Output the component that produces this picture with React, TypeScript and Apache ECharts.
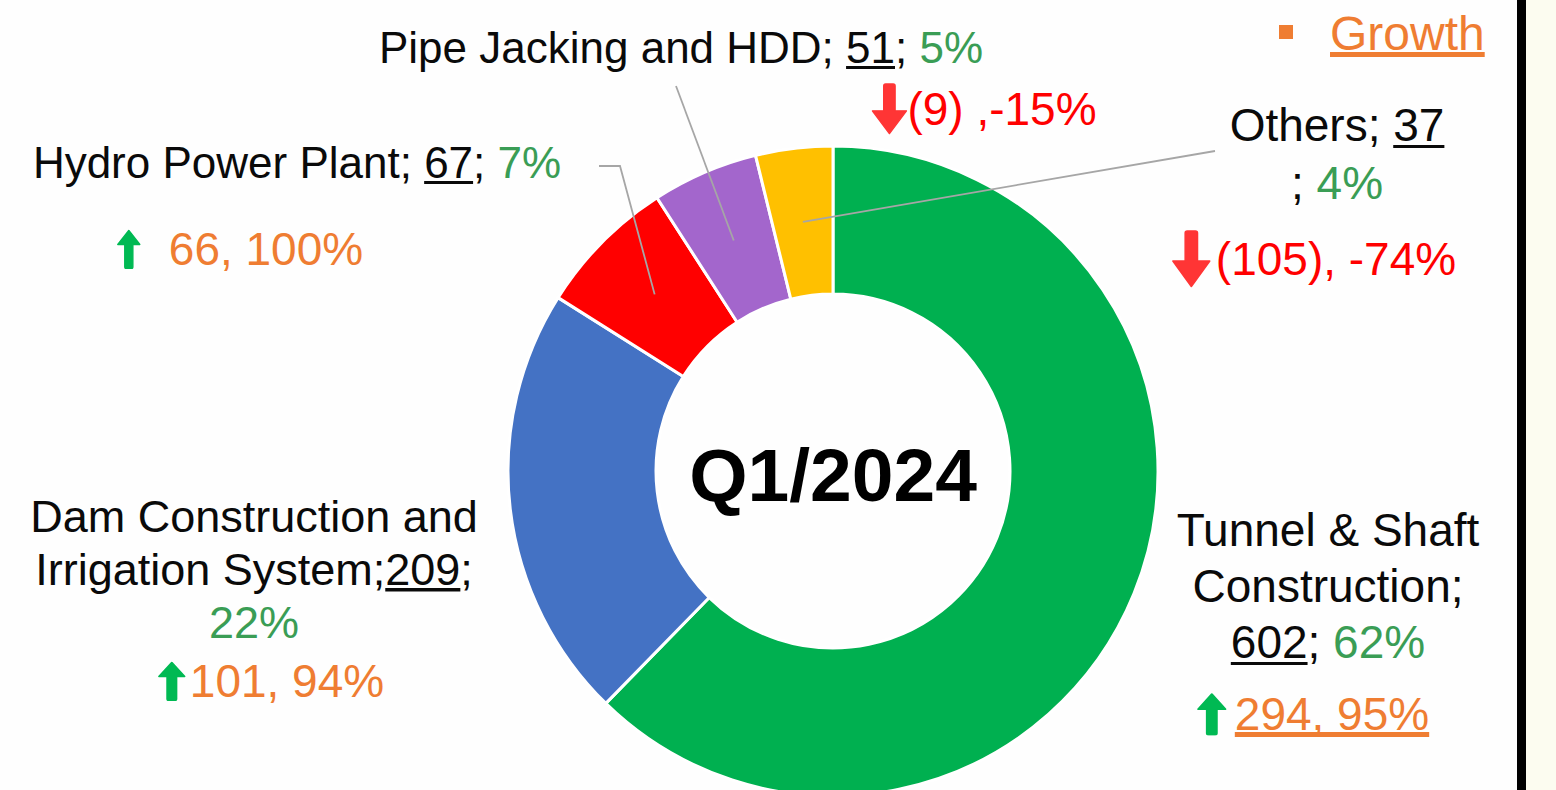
import React, { useEffect, useRef } from 'react';
import * as echarts from 'echarts';

// ---------------- data ----------------
const categories = [
  'Tunnel & Shaft Construction',
  'Dam Construction and Irrigation System',
  'Hydro Power Plant',
  'Pipe Jacking and HDD',
  'Others',
];
const values = [602, 209, 67, 51, 37];
const growthValues = [294, 101, 66, -9, -105];
const growthPercents = [95, 94, 100, -15, -74];
const periodLabel = 'Q1/2024';
const legendLabel = 'Growth';

// ---------------- styles / layout ----------------
const sliceColors = ['#00b050', '#4472c4', '#ff0000', '#a366cc', '#ffc000'];
const FONT = '"Liberation Sans", Arial, sans-serif';
const BLACK = '#0a0a0a';
const GREEN_TEXT = '#3a9d55';
const ORANGE = '#ef7d32';
const RED_TEXT = '#ff0000';
const UP_COLOR = '#00b953';
const DOWN_COLOR = '#ff3535';
const LEADER_COLOR = '#a6a6a6';

const CENTER: [number, number] = [833, 471];
const RADIUS: [number, number] = [177, 325];

const NAME_BREAK_AFTER_WORD = [3, 3, 0, 0, 0];
const SEP_AFTER_NAME = [';\n', ';', '; ', '; ', '; '];
const SEP_AFTER_VALUE = ['; ', ';\n', '; ', '; ', '\n; '];
const GROWTH_SEP = [', ', ', ', ', ', ' ,', ', '];

const MAIN_POS = [[1328, 586], [254, 569], [297, 162], [681, 47], [1337, 154]];
const MAIN_FONT = [46, 45, 44, 44, 46];
const MAIN_LINE_H = [56, 53, 50, 50, 58];
const GROWTH_POS = [[1313, 714], [271, 681], [240, 249], [984, 109], [1314, 259]];
const GROWTH_FONT = 46;
const ARROW_SIZE = [[30, 43], [28, 40], [24, 40], [36, 52], [39, 58]];
const ARROW_GAP = [8, 4, 28, 0, 5];
const GROWTH_UNDERLINE = [true, false, false, false, false];
const LEADERS = [
  { index: 2, points: [[620, 166], [599, 166]] },
  { index: 3, points: [[676, 86]] },
  { index: 4, points: [[1215, 151]] },
];

const svgUrl = (s: string) => 'data:image/svg+xml;charset=utf-8,' + encodeURIComponent(s);
const UP_ARROW = svgUrl(
  `<svg xmlns="http://www.w3.org/2000/svg" width="24" height="40" viewBox="0 0 24 40" preserveAspectRatio="none"><path d="M12 1.5 L23 15.5 L16 15.5 L16 38 Q16 39.5 14.5 39.5 L9.5 39.5 Q8 39.5 8 38 L8 15.5 L1 15.5 Z" fill="${UP_COLOR}" stroke="${UP_COLOR}" stroke-width="1.5" stroke-linejoin="round"/></svg>`
);
const DOWN_ARROW = svgUrl(
  `<svg xmlns="http://www.w3.org/2000/svg" width="38" height="56" viewBox="0 0 38 56" preserveAspectRatio="none"><path d="M19 54.5 L37 30 L25 30 L25 3 Q25 1 23 1 L15 1 Q13 1 13 3 L13 30 L1 30 Z" fill="${DOWN_COLOR}" stroke="${DOWN_COLOR}" stroke-width="1.5" stroke-linejoin="round"/></svg>`
);

const underline = (color: string, from: number) =>
  new echarts.graphic.LinearGradient(0, 0, 0, 1, [
    { offset: 0, color: 'rgba(0,0,0,0)' },
    { offset: from, color: 'rgba(0,0,0,0)' },
    { offset: from, color },
    { offset: 1, color },
  ]);

const total = values.reduce((a, b) => a + b, 0);

function buildRich() {
  const rich: Record<string, any> = {};
  for (let i = 0; i < values.length; i++) {
    const fs = MAIN_FONT[i];
    const lh = MAIN_LINE_H[i];
    rich['n' + i] = { fontFamily: FONT, fontSize: fs, color: BLACK, lineHeight: lh };
    rich['v' + i] = {
      fontFamily: FONT, fontSize: fs, color: BLACK, lineHeight: fs + 2,
      backgroundColor: underline(BLACK, 0.93),
    };
    rich['p' + i] = { fontFamily: FONT, fontSize: fs, color: GREEN_TEXT, lineHeight: lh };
    const [aw, ah] = ARROW_SIZE[i];
    rich['a' + i] = {
      width: aw, height: ah,
      backgroundColor: { image: growthValues[i] >= 0 ? UP_ARROW : DOWN_ARROW },
    };
    rich['s' + i] = { width: ARROW_GAP[i], height: 10 };
    rich['go' + i] = { fontFamily: FONT, fontSize: GROWTH_FONT, color: ORANGE, lineHeight: GROWTH_FONT + 4 };
    rich['gu' + i] = {
      fontFamily: FONT, fontSize: GROWTH_FONT, color: ORANGE, lineHeight: GROWTH_FONT + 4,
      backgroundColor: underline(ORANGE, 0.9),
    };
    rich['gr' + i] = { fontFamily: FONT, fontSize: GROWTH_FONT, color: RED_TEXT, lineHeight: GROWTH_FONT + 4 };
  }
  return rich;
}

function mainLabel(p: any) {
  const i = p.dataIndex;
  const words = categories[i].split(' ');
  const b = NAME_BREAK_AFTER_WORD[i];
  const name = b ? words.slice(0, b).join(' ') + '\n' + words.slice(b).join(' ') : categories[i];
  const pct = Math.round((values[i] / total) * 100);
  return `{n${i}|${name}}{n${i}|${SEP_AFTER_NAME[i]}}{v${i}|${values[i]}}{n${i}|${SEP_AFTER_VALUE[i]}}{p${i}|${pct}%}`;
}

function growthLabel(p: any) {
  const i = p.dataIndex;
  const g = growthValues[i];
  const up = g >= 0;
  const txt = up
    ? `${g}${GROWTH_SEP[i]}${growthPercents[i]}%`
    : `(${-g})${GROWTH_SEP[i]}${growthPercents[i]}%`;
  const st = up ? (GROWTH_UNDERLINE[i] ? 'gu' : 'go') + i : 'gr' + i;
  return `{a${i}|}{s${i}|}{${st}|${txt}}`;
}

export default function App() {
  const ref = useRef<HTMLDivElement>(null);

  useEffect(() => {
    if (!ref.current) return;
    const chart = echarts.init(ref.current, null, { renderer: 'svg' });
    const rich = buildRich();
    const pieData = categories.map((name, i) => ({
      name,
      value: values[i],
      itemStyle: { color: sliceColors[i] },
    }));

    const staticGraphic: any[] = [
      { type: 'rect', id: 'beige', z: 1, shape: { x: 1526, y: 0, width: 30, height: 790 }, style: { fill: '#fcfcf0' } },
      { type: 'rect', id: 'bar', z: 2, shape: { x: 1517, y: 0, width: 9, height: 790 }, style: { fill: '#000000' } },
      {
        type: 'text', id: 'center', z: 50, x: CENTER[0], y: CENTER[1] + 4,
        style: {
          text: periodLabel, fill: '#000000', fontFamily: FONT, fontSize: 75, fontWeight: 'bold',
          align: 'center', verticalAlign: 'middle',
        },
      },
      { type: 'rect', id: 'legendMark', z: 50, shape: { x: 1279, y: 25, width: 14, height: 14 }, style: { fill: ORANGE } },
      {
        type: 'text', id: 'legendText', z: 50, x: 1330, y: 33,
        style: {
          text: `{u|${legendLabel}}`, align: 'left', verticalAlign: 'middle',
          rich: {
            u: {
              fontFamily: FONT, fontSize: 48, fill: ORANGE, color: ORANGE, lineHeight: 50,
              backgroundColor: underline(ORANGE, 0.9),
            },
          },
        },
      },
    ];

    chart.setOption({
      animation: false,
      backgroundColor: '#fefefe',
      tooltip: { show: false },
      series: [
        {
          type: 'pie',
          name: 'share',
          center: CENTER,
          radius: RADIUS,
          startAngle: 90,
          clockwise: true,
          avoidLabelOverlap: false,
          silent: true,
          z: 2,
          itemStyle: { borderColor: '#ffffff', borderWidth: 3 },
          label: {
            show: true, position: 'outside', overflow: 'none', alignTo: 'none',
            formatter: mainLabel, rich, align: 'center',
          },
          labelLine: { show: false },
          labelLayout: (params: any) => {
            const pos = MAIN_POS[params.dataIndex];
            return { x: pos[0], y: pos[1], align: 'center', verticalAlign: 'middle' };
          },
          emphasis: { disabled: true },
          data: pieData,
        },
        {
          type: 'pie',
          name: legendLabel,
          center: CENTER,
          radius: RADIUS,
          startAngle: 90,
          clockwise: true,
          avoidLabelOverlap: false,
          silent: true,
          z: 3,
          itemStyle: { color: 'rgba(0,0,0,0)', borderWidth: 0 },
          label: {
            show: true, position: 'outside', overflow: 'none', alignTo: 'none',
            formatter: growthLabel, rich, align: 'center',
          },
          labelLine: { show: false },
          labelLayout: (params: any) => {
            const pos = GROWTH_POS[params.dataIndex];
            return { x: pos[0], y: pos[1], align: 'center', verticalAlign: 'middle' };
          },
          emphasis: { disabled: true },
          data: categories.map((name, i) => ({ name, value: values[i] })),
        },
      ],
      graphic: staticGraphic,
    });

    // leader lines start at each slice's centroid (mid angle, mid ring) from the pie layout
    let layouts: any[] | null = null;
    try {
      const data = (chart as any).getModel().getSeriesByIndex(0).getData();
      layouts = values.map((_, i) => data.getItemLayout(i));
    } catch (e) {
      layouts = null;
    }
    if (!layouts || !layouts[0]) {
      let acc = -Math.PI / 2;
      layouts = values.map((v) => {
        const a = (v / total) * Math.PI * 2;
        const l = { cx: CENTER[0], cy: CENTER[1], r: RADIUS[1], r0: RADIUS[0], startAngle: acc, endAngle: acc + a };
        acc += a;
        return l;
      });
    }
    const lines = LEADERS.map((ld) => {
      const l = layouts![ld.index];
      const mid = (l.startAngle + l.endAngle) / 2;
      const rr = (l.r + l.r0) / 2;
      const start = [l.cx + rr * Math.cos(mid), l.cy + rr * Math.sin(mid)];
      return {
        type: 'polyline',
        id: 'leader' + ld.index,
        z: 100,
        silent: true,
        shape: { points: [start, ...ld.points] },
        style: { stroke: LEADER_COLOR, lineWidth: 1.8, fill: null },
      };
    });
    chart.setOption({ graphic: [...staticGraphic, ...lines] });

    return () => chart.dispose();
  }, []);

  return (
    <div
      ref={ref}
      style={{ position: 'absolute', left: 0, top: 0, width: 1556, height: 790 }}
    />
  );
}
